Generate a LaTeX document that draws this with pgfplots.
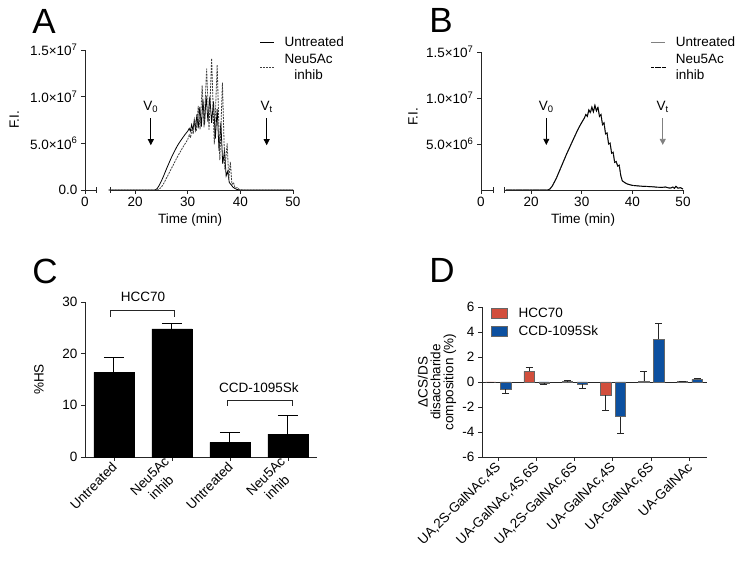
\documentclass[border=0pt]{standalone}
\usepackage{pgfplots}
\pgfplotsset{compat=1.18}
\usepackage{fontspec}
\setmainfont{Liberation Sans}
\usetikzlibrary{arrows.meta}
\definecolor{hred}{RGB}{210,78,60}
\definecolor{hblue}{RGB}{12,80,160}
\newcommand\fs{\fontsize{13.5}{16}\selectfont}
\pgfplotsset{
  gp/.style={scale only axis, anchor=south west, axis lines*=left, tick align=outside,
    major tick length=4pt, clip=false, font=\fs, /pgf/number format/assume math mode=true,
    axis line style={line width=0.8pt, black!85}, tick style={line width=0.8pt, black!85},
    every axis plot/.append style={no markers}},
  chrom/.style={gp, xmin=10.5, xmax=50, ymin=0, ymax=15,
    x axis line style={draw=none},
    xlabel={Time (min)}, ylabel={F.I.},
    xlabel style={at={(axis description cs:0.505,-0.215)}, anchor=center},
    legend style={draw=none, fill=none, font=\fs, inner sep=0pt, row sep=2pt,
      cells={anchor=west}, /tikz/every odd column/.append style={column sep=8pt}},
    legend image code/.code={\draw[##1] (0pt,0pt) -- (14pt,0pt);}},
}
\begin{document}
\begin{tikzpicture}
\useasboundingbox (0,0) rectangle (745pt,567pt);

% ---------------- Panel A ----------------
\begin{axis}[chrom, at={(85pt,377pt)}, width=208pt, height=140pt,
  xtick={10.5,20,30,40,50}, xticklabels={0,20,30,40,50},
  ytick={0,5,10,15},
  yticklabels={0.0, 5.0×10\textsuperscript{6}, 1.0×10\textsuperscript{7}, 1.5×10\textsuperscript{7}},
  ylabel style={at={(axis description cs:-0.34,0.5)}, anchor=center, rotate=0},
  legend style={at={(axis description cs:0.84,1.11)}, anchor=north west, cells={align=center}}]
\addplot[black, line width=0.8pt] coordinates {
(15,0) (23.8,0) (24.2,0.15) (24.6,0.5) (25,0.95) (25.5,1.6) (26,2.3) (26.5,2.95) (27,3.6)
(27.5,4.15) (28,4.7) (28.5,5.15) (29,5.55) (29.5,5.95) (30,6.3) (30.3,6.6) (30.5,6.3)
(30.75,7.0) (31.0,6.4) (31.25,7.5) (31.5,6.5) (31.75,8.1) (32.0,6.6) (32.3,8.9) (32.6,6.8)
(32.9,9.7) (33.2,7.0) (33.5,10.1) (33.85,7.3) (34.2,10.0) (34.55,7.2) (34.9,9.5) (35.25,5.5)
(35.6,8.7) (35.95,4.2) (36.3,7.2) (36.65,2.8) (37.0,4.2) (37.3,1.5) (37.6,2.0) (37.9,0.8)
(38.2,0.6) (38.6,0.3) (39.0,0.15) (39.4,0.05) (40,0) (50,0)};
\addlegendentry{Untreated}
\addplot[black!75, line width=0.8pt, dash pattern=on 2pt off 1pt] coordinates {
(15,0) (24.2,0) (24.6,0.1) (25,0.3) (25.5,0.75) (26,1.3) (26.5,1.85) (27,2.4) (27.5,2.95)
(28,3.5) (28.5,4.0) (29,4.5) (29.5,4.95) (30,5.4) (30.3,5.9) (30.55,5.6) (30.8,6.6)
(31.05,6.0) (31.35,7.6) (31.65,6.3) (32.0,9.0) (32.35,6.5) (32.75,11.2) (33.1,6.7)
(33.6,13.0) (34.05,6.4) (34.55,14.1) (35.05,4.9) (35.6,13.4) (36.1,3.2) (36.6,11.5)
(37.05,2.2) (37.5,5.0) (37.8,1.2) (38.1,3.0) (38.4,0.6) (38.7,0.8) (39.0,0.2) (39.4,0.25)
(39.8,0.05) (40.5,0) (50,0)};
\addlegendentry{Neu5Ac\\inhib}
\draw[line width=0.8pt, black!85] (axis cs:10.5,0) -- (axis cs:12.6,0);
\draw[line width=0.8pt, black!85] (axis cs:12.6,-0.32) -- (axis cs:12.6,0.32);
\draw[line width=0.8pt, black!85] (axis cs:15.3,0) -- (axis cs:50,0);
\draw[line width=0.8pt, black!85] (axis cs:15.3,-0.32) -- (axis cs:15.3,0.32);
\draw[line width=0.8pt, -{Triangle[length=6pt,width=6pt]}] (axis cs:23,7.7) -- (axis cs:23,4.8);
\node at (axis cs:23,8.9) {V\textsubscript{0}};
\draw[line width=0.8pt, -{Triangle[length=6pt,width=6pt]}] (axis cs:45,7.7) -- (axis cs:45,4.8);
\node at (axis cs:45,8.9) {V\textsubscript{t}};
\end{axis}

% ---------------- Panel B ----------------
\begin{axis}[chrom, at={(481pt,377pt)}, width=202pt, height=138pt, xmin=10.1,
  xtick={10.1,20,30,40,50}, xticklabels={0,20,30,40,50},
  ytick={5,10,15},
  yticklabels={5.0×10\textsuperscript{6}, 1.0×10\textsuperscript{7}, 1.5×10\textsuperscript{7}},
  ylabel style={at={(axis description cs:-0.337,0.53)}, anchor=center, rotate=0},
  legend style={at={(axis description cs:0.84,1.125)}, anchor=north west, cells={align=left}}]
\addplot[gray, line width=1pt] coordinates {
(15,0) (23.3,0) (23.7,0.1) (24.2,0.45) (25,1.3) (26,2.6) (27,3.9) (28,5.1) (29,6.3)
(29.5,6.85) (30,7.35) (30.5,7.8) (30.8,8.2) (31.1,8.0) (31.4,8.7) (31.7,8.4) (32.0,9.0)
(32.3,8.5) (32.6,9.2) (32.9,8.6) (33.2,9.0) (33.5,8.0) (33.8,8.2) (34.1,7.1) (34.4,7.3)
(34.7,6.1) (35.0,6.2) (35.3,5.0) (35.6,5.1) (35.9,4.0) (36.2,4.1) (36.5,3.0) (36.8,3.1)
(37.1,2.6) (37.4,2.7) (37.7,1.6) (38.0,1.0) (38.5,0.8) (39,0.65) (40,0.5) (41,0.45)
(42,0.4) (43,0.38) (44,0.35) (45,0.3) (46,0.28) (46.5,0.33) (47,0.25) (47.5,0.2)
(48,0.32) (48.3,0.18) (48.6,0.4) (49,0.2) (49.5,0.25) (50,0.1)};
\addlegendentry{Untreated}
\addplot[black, line width=0.9pt, dash pattern=on 3pt off 0.4pt] coordinates {
(15,0) (23.3,0) (23.7,0.1) (24.2,0.45) (25,1.3) (26,2.6) (27,3.9) (28,5.1) (29,6.3)
(29.5,6.85) (30,7.35) (30.5,7.8) (30.8,8.2) (31.1,8.0) (31.4,8.7) (31.7,8.4) (32.0,9.0)
(32.3,8.5) (32.6,9.2) (32.9,8.6) (33.2,9.0) (33.5,8.0) (33.8,8.2) (34.1,7.1) (34.4,7.3)
(34.7,6.1) (35.0,6.2) (35.3,5.0) (35.6,5.1) (35.9,4.0) (36.2,4.1) (36.5,3.0) (36.8,3.1)
(37.1,2.6) (37.4,2.7) (37.7,1.6) (38.0,1.0) (38.5,0.8) (39,0.65) (40,0.5) (41,0.45)
(42,0.4) (43,0.38) (44,0.35) (45,0.3) (46,0.28) (46.5,0.33) (47,0.25) (47.5,0.2)
(48,0.32) (48.3,0.18) (48.6,0.4) (49,0.2) (49.5,0.25) (50,0.1)};
\addlegendentry{Neu5Ac\\inhib}
\draw[line width=0.8pt, black!85] (axis cs:10.1,0) -- (axis cs:12.5,0);
\draw[line width=0.8pt, black!85] (axis cs:12.5,-0.33) -- (axis cs:12.5,0.33);
\draw[line width=0.8pt, black!85] (axis cs:14.7,0) -- (axis cs:50,0);
\draw[line width=0.8pt, black!85] (axis cs:14.7,-0.33) -- (axis cs:14.7,0.33);
\draw[line width=0.8pt, -{Triangle[length=6pt,width=6pt]}] (axis cs:23,7.8) -- (axis cs:23,4.9);
\node at (axis cs:23,9.0) {V\textsubscript{0}};
\draw[gray, line width=0.8pt, -{Triangle[length=6pt,width=6pt]}] (axis cs:46,7.8) -- (axis cs:46,4.9);
\node at (axis cs:46,9.0) {V\textsubscript{t}};
\end{axis}

% ---------------- Panel C ----------------
\begin{axis}[gp, at={(85pt,110pt)}, width=232pt, height=155pt,
  xmin=-0.5, xmax=3.5, ymin=0, ymax=30, ytick={0,10,20,30},
  xtick={0,1,2,3},
  xticklabels={Untreated,{Neu5Ac\\inhib},Untreated,{Neu5Ac\\inhib}},
  xticklabel style={rotate=45, anchor=east, align=center, xshift=1pt, yshift=-3pt},
  ylabel={\%HS}, ylabel style={at={(axis description cs:-0.198,0.5)}, anchor=center},
  ybar, bar width=0.69]
\addplot[fill=black, draw=black,
  error bars/.cd, y dir=plus, y explicit,
  error bar style={line width=1pt, black},
  error mark options={rotate=90, line width=1pt, mark size=10pt, black}]
  coordinates {(0,16.4) +- (0,2.9) (1,24.8) +- (0,1.1) (2,2.85) +- (0,1.95) (3,4.45) +- (0,3.6)};
\draw[line width=0.8pt, black!85] (axis cs:-0.07,27.1) -- (axis cs:-0.07,28.3) -- (axis cs:1.05,28.3) -- (axis cs:1.05,27.1);
\node at (axis cs:0.5,30.9) {HCC70};
\draw[line width=0.8pt, black!85] (axis cs:1.95,9.9) -- (axis cs:1.95,11.0) -- (axis cs:3.07,11.0) -- (axis cs:3.07,9.9);
\node at (axis cs:2.5,13.4) {CCD-1095Sk};
\end{axis}

% ---------------- Panel D ----------------
\begin{axis}[gp, at={(482pt,110pt)}, width=225pt, height=150pt,
  xmin=-0.42, xmax=5.46, ymin=-6, ymax=6, ytick={-6,-4,-2,0,2,4,6},
  xtick={0,1,2,3,4,5},
  xticklabels={{UA,2S-GalNAc,4S},{UA-GalNAc,4S,6S},{UA,2S-GalNAc,6S},{UA-GalNAc,4S},{UA-GalNAc,6S},{UA-GalNAc}},
  xticklabel style={rotate=45, anchor=east, xshift=1pt, yshift=-3pt},
  ylabel={\shortstack{ΔCS/DS\\disaccharide\\composition (\%)}},
  ylabel style={at={(axis description cs:-0.2,0.5)}, anchor=center},
  ybar, bar width=0.27,
  legend style={at={(axis description cs:0.04,1.01)}, anchor=north west, draw=none, fill=none,
    font=\fs, inner sep=0pt, row sep=3pt, cells={anchor=west},
    /tikz/every odd column/.append style={column sep=9pt}}]
\draw[line width=0.8pt, black!85] (axis cs:-0.42,0) -- (axis cs:5.46,0);
\addplot[bar shift=-0.19, fill=hred, draw=black!60, line width=0.5pt,
  legend image code/.code={\draw[fill=hred, draw=black!60, line width=0.5pt] (0pt,-5pt) rectangle (16pt,5pt);},
  error bars/.cd, y dir=plus, y explicit,
  error bar style={line width=0.7pt, black!85},
  error mark options={rotate=90, line width=0.7pt, mark size=3.5pt, black!85}]
  coordinates {(0,0) +- (0,0) (1,0.85) +- (0,0.35) (2,0.05) +- (0,0.05) (3,-1.05) +- (0,-1.25) (4,0.05) +- (0,0.8) (5,0.03) +- (0,0.04)};
\addlegendentry{HCC70}
\addplot[bar shift=0.2, fill=hblue, draw=black!60, line width=0.5pt,
  legend image code/.code={\draw[fill=hblue, draw=black!60, line width=0.5pt] (0pt,-5pt) rectangle (16pt,5pt);},
  error bars/.cd, y dir=plus, y explicit,
  error bar style={line width=0.7pt, black!85},
  error mark options={rotate=90, line width=0.7pt, mark size=3.5pt, black!85}]
  coordinates {(0,-0.6) +- (0,-0.3) (1,-0.08) +- (0,-0.07) (2,-0.15) +- (0,-0.35) (3,-2.78) +- (0,-1.36) (4,3.4) +- (0,1.3) (5,0.2) +- (0,0.1)};
\addlegendentry{CCD-1095Sk}
\end{axis}

% panel letters
\node[font=\fontsize{35}{40}\selectfont] at (44pt,546pt) {A};
\node[font=\fontsize{35}{40}\selectfont] at (441pt,547pt) {B};
\node[font=\fontsize{35}{40}\selectfont] at (45pt,296pt) {C};
\node[font=\fontsize{35}{40}\selectfont] at (442pt,297pt) {D};
\end{tikzpicture}
\end{document}
